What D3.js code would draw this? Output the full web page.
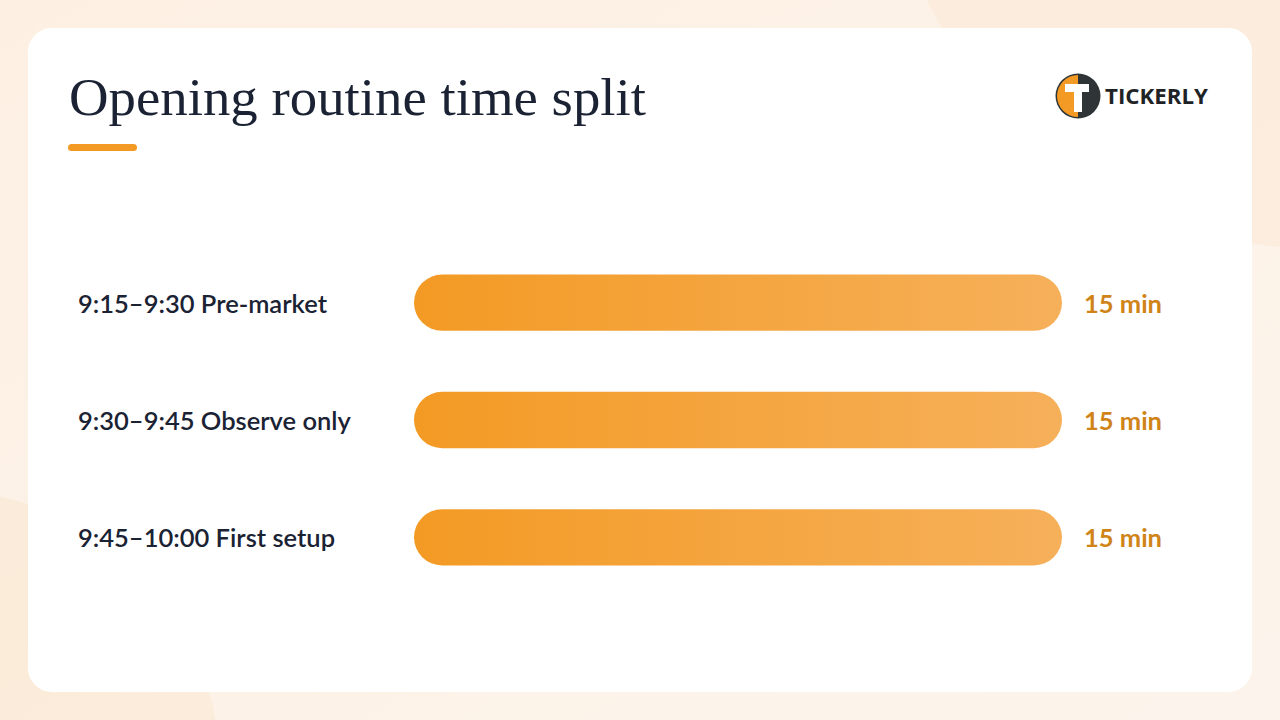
<!DOCTYPE html>
<html><head><meta charset="utf-8">
<script src="https://cdn.jsdelivr.net/npm/d3@7"></script>
<style>html,body{margin:0;padding:0;background:#fdf1e4;}svg{display:block;}</style>
</head><body>
<svg id="c" width="1280" height="720"></svg>
<script>
const categories = ["9:15–9:30 Pre-market", "9:30–9:45 Observe only", "9:45–10:00 First setup"];
const values = [15, 15, 15];
const valueLabels = ["15 min", "15 min", "15 min"];
const title = "Opening routine time split";
const brand = "TICKERLY";

const svg = d3.select("#c");
const defs = svg.append("defs");
const bg = defs.append("linearGradient").attr("id","bg").attr("x1","0").attr("x2","1").attr("y1","0").attr("y2","1");
bg.append("stop").attr("offset","0").attr("stop-color","#fdf0e3");
bg.append("stop").attr("offset","1").attr("stop-color","#fcf4ec");
svg.append("rect").attr("width",1280).attr("height",720).attr("fill","url(#bg)");
svg.append("circle").attr("cx",1330).attr("cy",-200).attr("r",450).attr("fill","#fbead8").attr("opacity",0.7);
svg.append("circle").attr("cx",-60).attr("cy",770).attr("r",280).attr("fill","#faead7").attr("opacity",0.8);

svg.append("rect").attr("x",28).attr("y",28).attr("width",1224).attr("height",664).attr("rx",24).attr("fill","#ffffff");

svg.append("text").attr("x",69).attr("y",115).text(title)
  .attr("font-family","'Liberation Serif', 'DejaVu Serif', serif").attr("font-size",53)
  .attr("textLength",577).attr("lengthAdjust","spacingAndGlyphs").attr("fill","#1a2233");
svg.append("rect").attr("x",68).attr("y",144).attr("width",69).attr("height",7).attr("rx",3.5).attr("fill","#f39a25");

// logo
const lg = svg.append("g").attr("transform","translate(1078,96)");
const r = 21;
lg.append("circle").attr("r",r+1.5).attr("fill","#2f3437");
lg.append("path").attr("d",d3.arc()({innerRadius:0,outerRadius:r,startAngle:Math.PI,endAngle:2*Math.PI})).attr("fill","#f39a25");
lg.append("path").attr("d",d3.arc()({innerRadius:0,outerRadius:r,startAngle:0,endAngle:Math.PI})).attr("fill","#2f3437");
lg.append("path").attr("d","M-13,-12 H11 V-4 H4 V16 H-4 V-4 H-13 Z").attr("fill","#ffffff");
svg.append("text").attr("x",1105).attr("y",104).text(brand)
  .attr("font-family","'Open Sans', 'DejaVu Sans', sans-serif").attr("font-weight",700).attr("font-size",21.5)
  .attr("textLength",103).attr("lengthAdjust","spacingAndGlyphs").attr("fill","#1f2326");

// bars
const grad = defs.append("linearGradient").attr("id","barg").attr("x1","0").attr("x2","1");
grad.append("stop").attr("offset","0").attr("stop-color","#f39a24");
grad.append("stop").attr("offset","1").attr("stop-color","#f6b05a");

const y = d3.scaleBand().domain(categories).range([244,596]).paddingInner(0.52).paddingOuter(0.26);
const x = d3.scaleLinear().domain([0,15]).range([414,1062]);
const bh = y.bandwidth();

const g = svg.append("g");
categories.forEach((c,i)=>{
  const yc = y(c) + bh/2 + 1;
  g.append("rect").attr("x",x(0)).attr("y",y(c)).attr("width",x(values[i])-x(0)).attr("height",bh)
    .attr("rx",bh/2).attr("fill","url(#barg)");
  g.append("text").attr("x",78).attr("y",yc).attr("dy","0.35em").text(c)
    .attr("font-family","Lato, 'Noto Sans', sans-serif").attr("font-weight",600).attr("font-size",25.5).attr("fill","#1a2233");
  g.append("text").attr("x",x(values[i])+22).attr("y",yc).attr("dy","0.35em").text(valueLabels[i])
    .attr("font-family","Lato, 'Noto Sans', sans-serif").attr("font-weight",700).attr("font-size",25.5).attr("fill","#d08418");
});
</script>
</body></html>
